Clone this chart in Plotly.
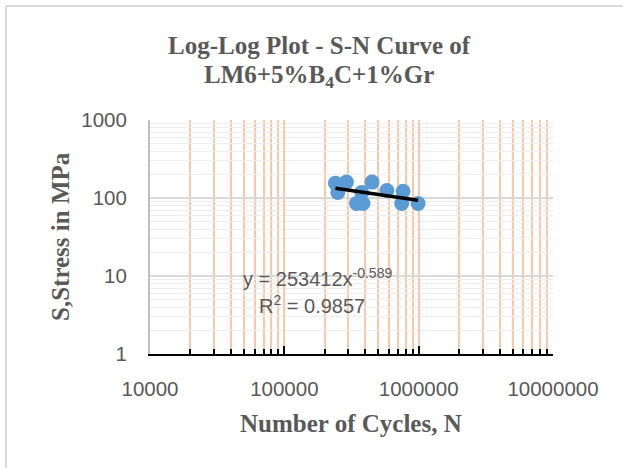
import numpy as np
import plotly.graph_objects as go

# Data
cycles = [240000, 290000, 250000, 345000, 385000, 377000, 450000, 580000, 765000, 748000, 990000]
stress = [155, 160, 118, 85, 85, 118, 160, 125, 122, 85, 85]

title_line1 = "Log-Log Plot - S-N Curve of"
title_line2 = "LM6+5%B<sub>4</sub>C+1%Gr"
x_title = "Number of Cycles, N"
y_title = "S,Stress in MPa"
eq_text = "y = 253412x<sup>-0.589</sup>"
r2_text = "R<sup>2</sup> = 0.9857"
x_ticks = [1e4, 1e5, 1e6, 1e7]
x_ticklabels = ["10000", "100000", "1000000", "10000000"]
y_ticks = [1, 10, 100, 1000]
y_ticklabels = ["1", "10", "100", "1000"]

# power-law trendline via least squares on logs
lx = np.log10(cycles)
ly = np.log10(stress)
b, a = np.polyfit(lx, ly, 1)
tx = np.array([min(cycles), max(cycles)])
ty = 10 ** (a + b * np.log10(tx))

grey = "#595959"
orange = "#F8C9A8"
L, R, T, B = 150, 70, 120, 114
PW, PH = 623 - L - R, 468 - T - B


def px(x):
    return (x - L) / PW


def py(y):
    return (468 - B - y) / PH


serif_bold = dict(family="Liberation Serif", size=25, color=grey, weight="bold")

fig = go.Figure()
fig.add_trace(go.Scatter(x=cycles, y=stress, mode="markers",
                         marker=dict(size=15, color="#5B9BD5"),
                         showlegend=False, hoverinfo="x+y"))
fig.add_trace(go.Scatter(x=tx, y=ty, mode="lines",
                         line=dict(color="black", width=3.5),
                         showlegend=False))

fig.update_layout(
    width=623, height=468,
    margin=dict(l=L, r=R, t=T, b=B),
    paper_bgcolor="white", plot_bgcolor="white",
    xaxis=dict(type="log", range=[4, 7],
               tickvals=x_ticks, ticktext=x_ticklabels,
               tickfont=dict(family="Liberation Sans", size=20.5, color=grey),
               ticklabelstandoff=15,
               showgrid=True, gridcolor=orange, gridwidth=1.5,
               ticks="inside", ticklen=8, tickwidth=2, tickcolor="black",
               showline=True, linecolor="black", linewidth=2,
               minor=dict(showgrid=True, gridcolor=orange, gridwidth=1.5,
                          ticks="inside", ticklen=5, tickwidth=2, tickcolor="black",
                          dtick="D1"),
               zeroline=False),
    yaxis=dict(type="log", range=[0, 3],
               tickvals=y_ticks, ticktext=y_ticklabels,
               tickfont=dict(family="Liberation Sans", size=20.5, color=grey),
               showgrid=True, gridcolor="#D9D9D9", gridwidth=1.5,
               ticks="", showline=True, linecolor="#BFBFBF", linewidth=2,
               minor=dict(showgrid=True, gridcolor="#EDEDED", gridwidth=1, dtick="D1"),
               zeroline=False, ticklabelstandoff=17),
    shapes=[
        dict(type="line", xref="paper", yref="paper", x0=px(6), x1=px(623),
             y0=py(6), y1=py(6), line=dict(color="#D9D9D9", width=2)),
        dict(type="line", xref="paper", yref="paper", x0=px(6), x1=px(6),
             y0=py(6), y1=py(468), line=dict(color="#D9D9D9", width=2)),
    ],
    annotations=[
        dict(text=title_line1, xref="paper", yref="paper", x=px(319), y=py(45),
             showarrow=False, xanchor="center", yanchor="middle", font=serif_bold),
        dict(text=title_line2, xref="paper", yref="paper", x=px(319), y=py(76),
             showarrow=False, xanchor="center", yanchor="middle", font=serif_bold),
        dict(text=x_title, xref="paper", yref="paper", x=px(351), y=py(423),
             showarrow=False, xanchor="center", yanchor="middle", font=serif_bold),
        dict(text=y_title, xref="paper", yref="paper", x=px(60), y=py(237),
             showarrow=False, xanchor="center", yanchor="middle", textangle=-90,
             font=serif_bold),
        dict(text=eq_text, xref="paper", yref="paper", x=px(317), y=py(277),
             showarrow=False, xanchor="center", yanchor="middle",
             font=dict(family="Liberation Sans", size=20, color=grey)),
        dict(text=r2_text, xref="paper", yref="paper", x=px(312), y=py(304),
             showarrow=False, xanchor="center", yanchor="middle",
             font=dict(family="Liberation Sans", size=20, color=grey)),
    ],
)

fig.write_html("out.html")
